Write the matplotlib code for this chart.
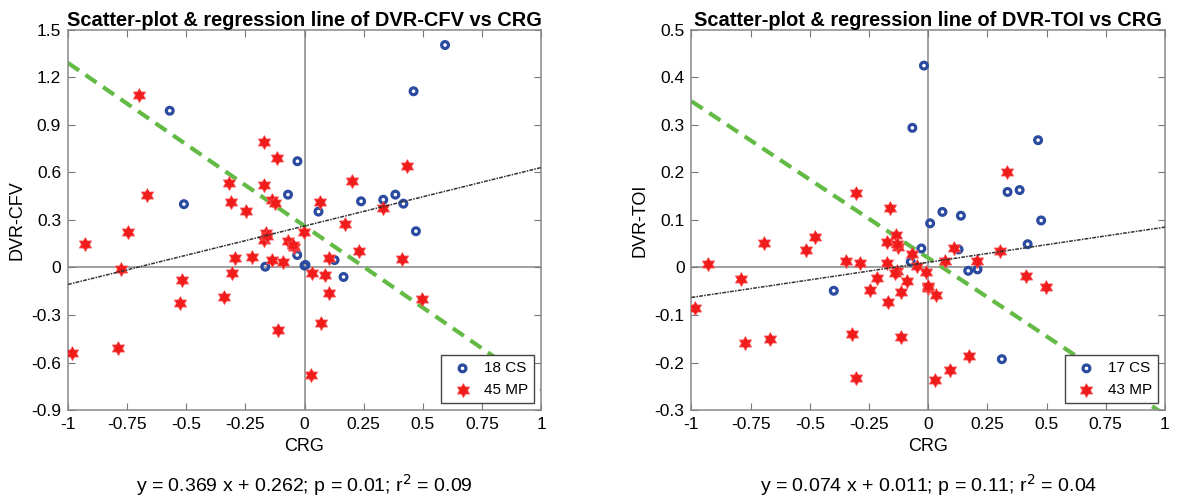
import numpy as np
import matplotlib
matplotlib.use('Agg')
import matplotlib.pyplot as plt

plt.rcParams['font.family'] = ['Liberation Sans', 'DejaVu Sans']

# CS / MP scatter data for the DVR-CFV panel
cfv_cs_x = [-0.57, -0.03, -0.07, -0.51, -0.166, -0.031, 0.004, 0.594, 0.461, 0.239,
            0.333, 0.384, 0.418, 0.059, 0.471, 0.127, 0.165, 0.0]
cfv_cs_y = [0.99, 0.671, 0.46, 0.40, 0.005, 0.079, 0.016, 1.405, 1.113, 0.418,
            0.428, 0.46, 0.403, 0.353, 0.229, 0.047, -0.06, 0.012]
cfv_mp_x = [-0.70, -0.17, -0.117, -0.321, -0.173, -0.136, -0.668, -0.309, -0.249, -0.748,
            -0.928, -0.165, -0.173, -0.069, -0.045, -0.003, -0.776, -0.519, -0.295, -0.222,
            -0.307, -0.136, -0.091, -0.527, -0.342, -0.114, -0.982, -0.788, 0.028, 0.03,
            0.432, 0.20, 0.066, 0.331, 0.169, 0.105, 0.229, 0.41, 0.087, 0.105,
            0.495, 0.07, -0.125, -0.16, -0.05]
cfv_mp_y = [1.09, 0.791, 0.694, 0.532, 0.519, 0.428, 0.458, 0.414, 0.357, 0.222,
            0.148, 0.22, 0.174, 0.169, 0.131, 0.222, -0.011, -0.079, 0.058, 0.064,
            -0.037, 0.047, 0.037, -0.222, -0.188, -0.395, -0.542, -0.51, -0.677, -0.037,
            0.643, 0.548, 0.412, 0.376, 0.273, 0.058, 0.106, 0.054, -0.045, -0.163,
            -0.201, -0.352, 0.41, 0.2, 0.14]

# CS / MP scatter data for the DVR-TOI panel
toi_cs_x = [-0.018, -0.067, 0.008, -0.029, 0.464, 0.335, 0.386, 0.06, 0.138, 0.477,
            0.42, 0.128, -0.074, -0.399, 0.169, 0.208, 0.311]
toi_cs_y = [0.425, 0.294, 0.093, 0.04, 0.268, 0.159, 0.163, 0.117, 0.109, 0.099,
            0.049, 0.038, 0.012, -0.049, -0.007, -0.004, -0.193]
toi_mp_x = [-0.303, -0.163, -0.693, -0.48, -0.173, -0.135, -0.128, -0.518, 0.333, 0.107,
            0.304, -0.929, -0.792, -0.347, -0.29, -0.067, -0.173, -0.133, -0.046, -0.011,
            -0.218, -0.088, -0.248, -0.114, -0.003, -0.985, -0.169, -0.321, -0.117, -0.773,
            -0.667, -0.303, 0.071, 0.208, 0.413, 0.498, 0.032, 0.173, 0.091, 0.028,
            -0.14, -0.13, 0.0]
toi_mp_y = [0.157, 0.126, 0.051, 0.065, 0.054, 0.068, 0.044, 0.037, 0.202, 0.04,
            0.035, 0.007, -0.024, 0.014, 0.009, 0.028, 0.01, -0.007, 0.003, -0.01,
            -0.023, -0.028, -0.047, -0.051, -0.044, -0.086, -0.072, -0.14, -0.146, -0.158,
            -0.151, -0.232, 0.014, 0.014, -0.017, -0.042, -0.058, -0.186, -0.216, -0.237,
            -0.012, 0.05, -0.04]

# regression (black) and green dashed line parameters
cfv_fit = (0.369, 0.262)
cfv_green = (-1.03, 0.262)
toi_fit = (0.074, 0.011)
toi_green = (-0.33, 0.02)

x_ticks = [-1, -0.75, -0.5, -0.25, 0, 0.25, 0.5, 0.75, 1]
x_labels = ['-1', '-0.75', '-0.5', '-0.25', '0', '0.25', '0.5', '0.75', '1']
cfv_yticks = [-0.9, -0.6, -0.3, 0, 0.3, 0.6, 0.9, 1.2, 1.5]
cfv_ylabels = ['-0.9', '-0.6', '-0.3', '0', '0.3', '0.6', '0.9', '1.2', '1.5']
toi_yticks = [-0.3, -0.2, -0.1, 0, 0.1, 0.2, 0.3, 0.4, 0.5]
toi_ylabels = ['-0.3', '-0.2', '-0.1', '0', '0.1', '0.2', '0.3', '0.4', '0.5']

# six pointed star like matlab's hexagram
ang = np.pi / 2 + np.arange(12) * np.pi / 6
rad = np.where(np.arange(12) % 2 == 0, 1.0, 0.577)
hexagram = list(zip(rad * np.cos(ang), rad * np.sin(ang)))

blue = '#2b4ba0'
red = '#f01c1c'
green = '#63bb45'


def panel(ax, csx, csy, mpx, mpy, fit, green_line, yticks, ylabels, ylabel, title, note):
    ax.set_xlim(-1, 1)
    ax.set_ylim(yticks[0], yticks[-1])
    ax.axhline(0, color='#999999', lw=1.3, zorder=1)
    ax.axvline(0, color='#999999', lw=1.3, zorder=1)

    ax.scatter(csx, csy, marker='o', s=24, facecolors='none', edgecolors=blue,
               linewidths=2.3, zorder=3, label=str(len(csx)) + ' CS')
    ax.scatter(mpx, mpy, marker=hexagram, s=105, color=red, edgecolors='#ff6060',
               linewidths=0.5, zorder=3, label=str(len(mpx)) + ' MP')

    xx = np.array([-1.0, 1.0])
    ax.plot(xx, green_line[0] * xx + green_line[1], color=green, lw=3,
            dashes=(3.2, 1.9), zorder=2)
    ax.plot(xx, fit[0] * xx + fit[1], color='#333333', lw=1.1,
            linestyle=(0, (2.5, 0.8, 1, 0.8)), zorder=4)

    ax.set_xticks(x_ticks)
    ax.set_xticklabels(x_labels)
    ax.set_yticks(yticks)
    ax.set_yticklabels(ylabels)
    ax.tick_params(direction='in', top=True, right=True, length=5, color='#777777',
                   labelsize=12.5, pad=5)
    for s in ax.spines.values():
        s.set_color('#888888')
        s.set_linewidth(1.1)

    ax.set_xlabel('CRG', fontsize=13, labelpad=4)
    ax.set_ylabel(ylabel, fontsize=13, labelpad=4)
    ax.set_title(title, fontsize=14.4, fontweight='bold', pad=3)
    ax.text(0.5, -0.197, note, transform=ax.transAxes, ha='center', va='center', fontsize=14)

    leg = ax.legend(loc='lower right', fontsize=11, fancybox=False, framealpha=1,
                    edgecolor='#444444', borderaxespad=0.45, handletextpad=0.4,
                    borderpad=0.4, labelspacing=0.5)
    leg.get_frame().set_linewidth(1.0)


fig = plt.figure(figsize=(11.79, 4.98), dpi=100)
ax1 = fig.add_axes([0.0577, 0.1767, 0.4012, 0.7631])
ax2 = fig.add_axes([0.5865, 0.1767, 0.4016, 0.7631])

panel(ax1, cfv_cs_x, cfv_cs_y, cfv_mp_x, cfv_mp_y, cfv_fit, cfv_green,
      cfv_yticks, cfv_ylabels, 'DVR-CFV',
      'Scatter-plot & regression line of DVR-CFV vs CRG',
      'y = 0.369 x + 0.262; p = 0.01; r$^2$ = 0.09')
panel(ax2, toi_cs_x, toi_cs_y, toi_mp_x, toi_mp_y, toi_fit, toi_green,
      toi_yticks, toi_ylabels, 'DVR-TOI',
      'Scatter-plot & regression line of DVR-TOI vs CRG',
      'y = 0.074 x + 0.011; p = 0.11; r$^2$ = 0.04')

fig.savefig('out.png', dpi=100)
